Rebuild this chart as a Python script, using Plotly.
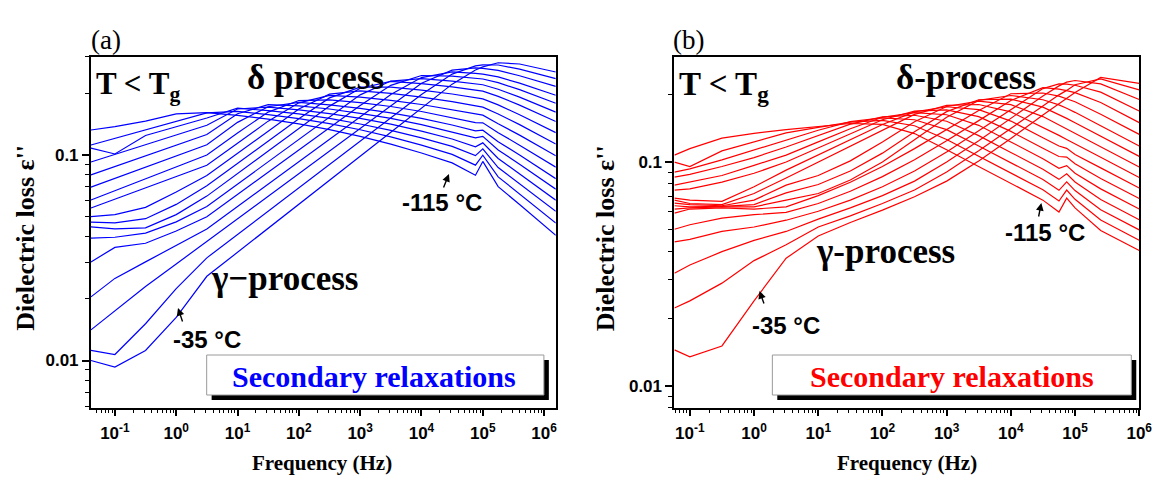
import plotly.graph_objects as go

W, H = 1173, 480

# ---------------- data ----------------
temps = [-115, -110, -105, -100, -95, -90, -85, -80, -75, -70, -65, -60, -55, -50, -45, -40, -35]

freq_a = [0.0407, 0.1, 0.316, 1, 3.16, 10, 31.6, 100, 316, 1000, 3160, 1e4, 31600, 75900, 1e5, 178000, 398000, 1550000]
freq_b = [0.0575, 0.1, 0.316, 1, 3.16, 10, 31.6, 100, 316, 1000, 3160, 1e4, 31600, 56200, 74100, 1e5, 251000, 1e6]

# panel (a): dielectric loss for each temperature
loss_a_m115 = [0.1324, 0.1374, 0.1462, 0.1585, 0.1607, 0.156, 0.1496, 0.1419, 0.133, 0.1233, 0.113, 0.1023, 0.0916, 0.0798, 0.0931, 0.0702, 0.0574, 0.0407]
loss_a_m110 = [0.1119, 0.1205, 0.1324, 0.1459, 0.1603, 0.1629, 0.1574, 0.1503, 0.1422, 0.1327, 0.1225, 0.1117, 0.1007, 0.0893, 0.0998, 0.0783, 0.0647, 0.0467]
loss_a_m105 = [0.1081, 0.1012, 0.1245, 0.1374, 0.1514, 0.169, 0.1644, 0.1585, 0.1507, 0.1416, 0.1318, 0.1211, 0.1102, 0.0993, 0.1072, 0.0869, 0.0726, 0.0532]
loss_a_m100 = [0.0925, 0.1007, 0.1122, 0.1253, 0.1396, 0.1675, 0.171, 0.166, 0.1589, 0.1507, 0.1413, 0.1306, 0.1197, 0.1096, 0.1146, 0.0962, 0.0811, 0.0603]
loss_a_m95 = [0.08, 0.0879, 0.0991, 0.1117, 0.1259, 0.1589, 0.1758, 0.1734, 0.1675, 0.1596, 0.1507, 0.1406, 0.1297, 0.1211, 0.1233, 0.1059, 0.0902, 0.0682]
loss_a_m90 = [0.0698, 0.0769, 0.0873, 0.0989, 0.1122, 0.1442, 0.1718, 0.1803, 0.1754, 0.1687, 0.1603, 0.1507, 0.14, 0.1312, 0.1321, 0.1161, 0.1, 0.0767]
loss_a_m85 = [0.0604, 0.067, 0.0766, 0.0875, 0.1, 0.128, 0.1618, 0.1841, 0.1854, 0.1799, 0.1722, 0.1629, 0.1524, 0.1439, 0.1435, 0.1285, 0.1117, 0.0873]
loss_a_m80 = [0.0552, 0.061, 0.0692, 0.0785, 0.0891, 0.114, 0.1462, 0.1795, 0.195, 0.1914, 0.1845, 0.1762, 0.166, 0.1574, 0.1563, 0.1419, 0.125, 0.0991]
loss_a_m75 = [0.0501, 0.0513, 0.0556, 0.0661, 0.0794, 0.1019, 0.1309, 0.1675, 0.1977, 0.2051, 0.1995, 0.1914, 0.182, 0.1738, 0.171, 0.1585, 0.1406, 0.1132]
loss_a_m70 = [0.0472, 0.0468, 0.049, 0.0575, 0.0708, 0.091, 0.117, 0.1503, 0.1897, 0.2138, 0.2138, 0.207, 0.1982, 0.1901, 0.1875, 0.1754, 0.157, 0.1285]
loss_a_m65 = [0.0447, 0.0437, 0.0442, 0.0513, 0.0631, 0.0811, 0.1045, 0.1343, 0.173, 0.2113, 0.228, 0.2228, 0.2148, 0.207, 0.2046, 0.1928, 0.175, 0.1455]
loss_a_m60 = [0.0394, 0.0398, 0.0417, 0.0473, 0.0562, 0.0723, 0.0929, 0.1194, 0.1531, 0.1963, 0.2291, 0.2355, 0.2291, 0.2223, 0.2198, 0.2089, 0.1914, 0.1618]
loss_a_m55 = [0.0302, 0.0355, 0.0372, 0.0427, 0.0501, 0.0643, 0.0826, 0.1059, 0.1358, 0.1742, 0.2183, 0.2438, 0.2421, 0.2366, 0.2344, 0.2249, 0.208, 0.1786]
loss_a_m50 = [0.0204, 0.0251, 0.0302, 0.0363, 0.0437, 0.0561, 0.0721, 0.0927, 0.1191, 0.1531, 0.1968, 0.2382, 0.2541, 0.2495, 0.2477, 0.2399, 0.2239, 0.1954]
loss_a_m45 = [0.0141, 0.0174, 0.0229, 0.0295, 0.038, 0.049, 0.0632, 0.0815, 0.105, 0.1355, 0.1746, 0.2234, 0.2588, 0.2655, 0.2642, 0.2582, 0.2432, 0.2158]
loss_a_m40 = [0.0112, 0.0107, 0.0151, 0.0224, 0.0316, 0.041, 0.0533, 0.0692, 0.0899, 0.1167, 0.1517, 0.1968, 0.2477, 0.2716, 0.2748, 0.2742, 0.2618, 0.2355]
loss_a_m35 = [0.01, 0.0093, 0.0112, 0.0162, 0.0257, 0.0337, 0.0441, 0.0577, 0.0753, 0.0986, 0.1291, 0.169, 0.2213, 0.2594, 0.2685, 0.2812, 0.2773, 0.2535]

# panel (b)
loss_b_m115 = [0.1074, 0.1148, 0.1279, 0.1343, 0.1396, 0.1445, 0.1486, 0.1472, 0.134, 0.1135, 0.0955, 0.0804, 0.0676, 0.0598, 0.069, 0.0624, 0.0495, 0.0403]
loss_b_m110 = [0.1, 0.0955, 0.1122, 0.123, 0.1349, 0.1429, 0.1507, 0.1535, 0.1452, 0.1262, 0.1062, 0.0893, 0.0752, 0.067, 0.075, 0.0682, 0.0551, 0.0448]
loss_b_m105 = [0.0902, 0.0933, 0.1023, 0.1135, 0.1259, 0.1387, 0.1514, 0.1574, 0.1545, 0.1396, 0.118, 0.0993, 0.0836, 0.0748, 0.0815, 0.0746, 0.0612, 0.0498]
loss_b_m100 = [0.0857, 0.0881, 0.0955, 0.1047, 0.1167, 0.1312, 0.1476, 0.1592, 0.1618, 0.1521, 0.1312, 0.1104, 0.0929, 0.0837, 0.0887, 0.0815, 0.0681, 0.0553]
loss_b_m95 = [0.0789, 0.0813, 0.0871, 0.0966, 0.1074, 0.123, 0.1409, 0.1585, 0.1663, 0.1626, 0.1459, 0.123, 0.1035, 0.0938, 0.0964, 0.0891, 0.0759, 0.0617]
loss_b_m90 = [0.075, 0.0759, 0.0813, 0.0891, 0.1, 0.1159, 0.134, 0.1545, 0.1687, 0.171, 0.1596, 0.1371, 0.1153, 0.1059, 0.1052, 0.0982, 0.0845, 0.0687]
loss_b_m85 = [0.069, 0.0676, 0.0668, 0.0776, 0.092, 0.1076, 0.1259, 0.1472, 0.1675, 0.1766, 0.1714, 0.1524, 0.1285, 0.1179, 0.1151, 0.1081, 0.0942, 0.0766]
loss_b_m80 = [0.0676, 0.0653, 0.0646, 0.0724, 0.0849, 0.1002, 0.118, 0.1393, 0.1633, 0.1791, 0.1807, 0.1675, 0.1432, 0.1315, 0.1262, 0.1205, 0.105, 0.0853]
loss_b_m75 = [0.0656, 0.0646, 0.0638, 0.0676, 0.0789, 0.0871, 0.1012, 0.123, 0.1514, 0.177, 0.1871, 0.1803, 0.1596, 0.1462, 0.1403, 0.1343, 0.1169, 0.0951]
loss_b_m70 = [0.0638, 0.0631, 0.0634, 0.0646, 0.0728, 0.0794, 0.0912, 0.1096, 0.1365, 0.1679, 0.1897, 0.191, 0.1758, 0.1633, 0.1567, 0.1498, 0.1304, 0.106]
loss_b_m65 = [0.0617, 0.0624, 0.0631, 0.0631, 0.0676, 0.0724, 0.0832, 0.1, 0.1259, 0.1585, 0.1884, 0.1982, 0.1897, 0.1799, 0.1738, 0.1667, 0.1452, 0.118]
loss_b_m60 = [0.0592, 0.0617, 0.0624, 0.0617, 0.0631, 0.0708, 0.0813, 0.0955, 0.1148, 0.1396, 0.1698, 0.2018, 0.2034, 0.1968, 0.1919, 0.1859, 0.1635, 0.1329]
loss_b_m55 = [0.0501, 0.0525, 0.0562, 0.0582, 0.0596, 0.0653, 0.0741, 0.0861, 0.1023, 0.1245, 0.1531, 0.1884, 0.2148, 0.2118, 0.2084, 0.2042, 0.1845, 0.15]
loss_b_m50 = [0.044, 0.0452, 0.049, 0.0513, 0.055, 0.0603, 0.0676, 0.0776, 0.0912, 0.1109, 0.138, 0.1718, 0.2128, 0.2234, 0.2228, 0.2203, 0.2051, 0.169]
loss_b_m45 = [0.0319, 0.0347, 0.0398, 0.0447, 0.049, 0.0556, 0.0624, 0.0708, 0.0822, 0.1, 0.1245, 0.1567, 0.1972, 0.2188, 0.2275, 0.2312, 0.2234, 0.1901]
loss_b_m40 = [0.0223, 0.024, 0.0288, 0.0363, 0.0427, 0.0513, 0.0575, 0.0653, 0.075, 0.0902, 0.1122, 0.1413, 0.1778, 0.1995, 0.2089, 0.2213, 0.235, 0.2099]
loss_b_m35 = [0.0145, 0.0135, 0.0151, 0.024, 0.0372, 0.0468, 0.0537, 0.061, 0.07, 0.0822, 0.1012, 0.1274, 0.1622, 0.182, 0.1928, 0.2042, 0.2388, 0.2244]

curves_a = [loss_a_m115, loss_a_m110, loss_a_m105, loss_a_m100, loss_a_m95, loss_a_m90, loss_a_m85,
            loss_a_m80, loss_a_m75, loss_a_m70, loss_a_m65, loss_a_m60, loss_a_m55, loss_a_m50,
            loss_a_m45, loss_a_m40, loss_a_m35]
curves_b = [loss_b_m115, loss_b_m110, loss_b_m105, loss_b_m100, loss_b_m95, loss_b_m90, loss_b_m85,
            loss_b_m80, loss_b_m75, loss_b_m70, loss_b_m65, loss_b_m60, loss_b_m55, loss_b_m50,
            loss_b_m45, loss_b_m40, loss_b_m35]

x_tick_vals = [0.1, 1, 10, 100, 1000, 1e4, 1e5, 1e6]
x_tick_text = ["<b>10<sup>-1</sup></b>", "<b>10<sup>0</sup></b>", "<b>10<sup>1</sup></b>", "<b>10<sup>2</sup></b>",
               "<b>10<sup>3</sup></b>", "<b>10<sup>4</sup></b>", "<b>10<sup>5</sup></b>", "<b>10<sup>6</sup></b>"]
y_tick_vals = [0.01, 0.1]
y_tick_text = ["<b>0.01</b>", "<b>0.1</b>"]

# ---------------- figure ----------------
fig = go.Figure()
for T, vals in zip(temps, curves_a):
    fig.add_trace(go.Scatter(x=freq_a, y=vals, mode="lines", name=f"{T} °C",
                             line=dict(color="#0000FF", width=1.2), xaxis="x", yaxis="y",
                             showlegend=False, hoverinfo="skip"))
for T, vals in zip(temps, curves_b):
    fig.add_trace(go.Scatter(x=freq_b, y=vals, mode="lines", name=f"{T} °C",
                             line=dict(color="#FF0000", width=1.2), xaxis="x2", yaxis="y2",
                             showlegend=False, hoverinfo="skip"))

minor_x = [k * 10.0 ** e for e in range(-2, 7) for k in range(2, 10)]
minor_y = [k * 10.0 ** e for e in range(-3, 0) for k in range(2, 10)]

SANS = "Liberation Sans, Arial, sans-serif"
SERIF = "Liberation Serif, Times New Roman, serif"


def xaxis_cfg(rng, dom, anchor):
    return dict(type="log", range=rng, domain=dom, anchor=anchor,
                showline=True, linecolor="black", linewidth=2, mirror=True,
                ticks="outside", ticklen=6, tickwidth=1.5, tickcolor="black",
                tickvals=x_tick_vals, ticktext=x_tick_text, ticklabelstandoff=3,
                tickfont=dict(family=SANS, size=17, color="black"),
                showgrid=False, zeroline=False,
                minor=dict(ticks="outside", ticklen=3, tickwidth=1, tickcolor="black",
                           tickvals=minor_x, showgrid=False))


def yaxis_cfg(rng, dom, anchor):
    return dict(type="log", range=rng, domain=dom, anchor=anchor,
                showline=True, linecolor="black", linewidth=2, mirror=True,
                ticks="outside", ticklen=7, tickwidth=1.5, tickcolor="black",
                tickvals=y_tick_vals, ticktext=y_tick_text,
                tickfont=dict(family=SANS, size=17, color="black"),
                showgrid=False, zeroline=False,
                minor=dict(ticks="outside", ticklen=4, tickwidth=1, tickcolor="black",
                           tickvals=minor_y, showgrid=False))


ydom = [1 - 408 / H, 1 - 57 / H]
fig.update_layout(
    width=W, height=H, autosize=False,
    margin=dict(l=0, r=0, t=0, b=0),
    paper_bgcolor="white", plot_bgcolor="white",
    showlegend=False,
    xaxis=xaxis_cfg([-1.39, 6.19], [92 / W, 562 / W], "y"),
    yaxis=yaxis_cfg([-2.231, -0.523], ydom, "x"),
    xaxis2=xaxis_cfg([-1.24, 6.0], [682 / W, 1152 / W], "y2"),
    yaxis2=yaxis_cfg([-2.098, -0.531], ydom, "x2"),
)


def P(x, y):
    return x / W, 1 - y / H


annotations = []


def text(x, y, s, size, family, color="black", xanchor="center", angle=0):
    px, py = P(x, y)
    annotations.append(dict(x=px, y=py, xref="paper", yref="paper", text=s, showarrow=False,
                            font=dict(family=family, size=size, color=color),
                            xanchor=xanchor, yanchor="middle", textangle=angle))


def arrow(tx, ty, hx, hy):
    px, py = P(hx, hy)
    annotations.append(dict(x=px, y=py, xref="paper", yref="paper", text="", showarrow=True,
                            ax=tx - hx, ay=ty - hy, arrowhead=2, arrowsize=1.1, arrowwidth=1.4,
                            arrowcolor="black", standoff=0, startstandoff=0))


# panel (a)
text(107, 40, "(a)", 27, SERIF)
text(95, 86, "<b>T &lt; T<sub>g</sub></b>", 31, SERIF, xanchor="left")
text(319, 78, "<b>δ process</b>", 35, SERIF)
text(447, 202, "<b>-115 °C</b>", 24, SANS)
arrow(448, 189, 454, 174)
text(288, 278, "<b>γ−process</b>", 35, SERIF)
text(209, 339, "<b>-35 °C</b>", 24, SANS)
arrow(185, 323, 180, 308)
text(378, 376, "<b>Secondary relaxations</b>", 30, SERIF, color="#0000FF")
text(25, 238, "<b>Dielectric loss ε''</b>", 26, SERIF, angle=-90)
text(326, 463, "<b>Frequency (Hz)</b>", 21, SERIF)

# panel (b)
text(696, 40, "(b)", 27, SERIF)
text(685, 86, "<b>T &lt; T<sub>g</sub></b>", 33, SERIF, xanchor="left")
text(977, 78, "<b>δ-process</b>", 35, SERIF)
text(1057, 232, "<b>-115 °C</b>", 24, SANS)
arrow(1050, 218, 1053, 203)
text(895, 251, "<b>γ-process</b>", 35, SERIF)
text(795, 325, "<b>-35 °C</b>", 24, SANS)
arrow(773, 305, 768, 291)
text(963, 376, "<b>Secondary relaxations</b>", 30, SERIF, color="#FF0000")
text(612, 238, "<b>Dielectric loss ε''</b>", 26, SERIF, angle=-90)
text(917, 463, "<b>Frequency (Hz)</b>", 21, SERIF)

fig.update_layout(annotations=annotations)


def rect(x0, y0, x1, y1, **kw):
    a0, b0 = P(x0, y1)
    a1, b1 = P(x1, y0)
    return dict(type="rect", xref="paper", yref="paper", x0=a0, y0=b0, x1=a1, y1=b1, layer="above", **kw)


shapes = [
    rect(214, 360, 555, 400, fillcolor="black", line=dict(width=0)),
    rect(209, 355, 550, 395, fillcolor="white", line=dict(color="#9a9a9a", width=1)),
    rect(786, 360, 1149, 400, fillcolor="black", line=dict(width=0)),
    rect(781, 355, 1144, 395, fillcolor="white", line=dict(color="#9a9a9a", width=1)),
]
fig.update_layout(shapes=shapes)

fig.write_html("out.html")
